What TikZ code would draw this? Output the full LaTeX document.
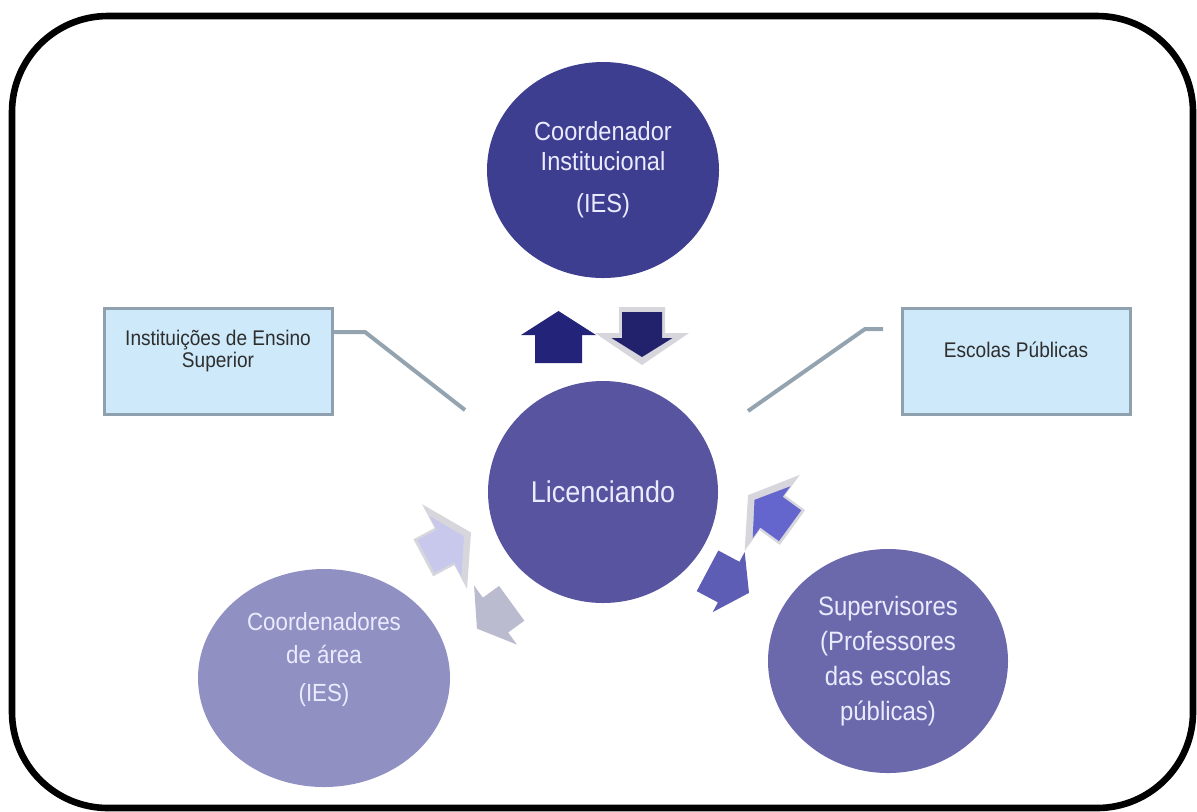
\documentclass[tikz,border=0pt]{standalone}
\usepackage{fontspec}
\setmainfont[FakeStretch=0.9]{Liberation Sans}
\usetikzlibrary{positioning,shapes.geometric}

\definecolor{coicol}{HTML}{3E3E90}
\definecolor{liccol}{HTML}{5854A0}
\definecolor{areacol}{HTML}{9190C3}
\definecolor{supcol}{HTML}{6B68AC}
\definecolor{boxfill}{HTML}{CDE9FA}
\definecolor{boxline}{HTML}{8FA1AE}
\definecolor{linkcol}{HTML}{93A3AF}
\definecolor{navyup}{HTML}{23237A}
\definecolor{navydown}{HTML}{22226C}
\definecolor{glow}{HTML}{D6D6DC}
\definecolor{lavarrow}{HTML}{C8C8EC}
\definecolor{grayarrow}{HTML}{BBBBD0}
\definecolor{brightarrow}{HTML}{6565CE}
\definecolor{suparrow}{HTML}{5D5DB6}

% block arrow: style, tail, angle, shaft width, shaft length, head width, head length
\newcommand{\blockarrow}[7]{%
  \begin{scope}[shift={(#2)}, rotate=#3]
    \fill[#1] (0,-#4/2) -- (#5,-#4/2) -- (#5,-#6/2) -- (#5+#7,0) -- (#5,#6/2) -- (#5,#4/2) -- (0,#4/2) -- cycle;
  \end{scope}}

\begin{document}
\begin{tikzpicture}[x=0.5pt, y=-0.5pt, on grid,
    main/.style = {ellipse, inner sep=0pt, text=white!92!blue, align=center},
    box/.style = {draw=boxline, line width=1.5pt, fill=boxfill, minimum width=114pt, minimum height=53pt, align=center, text=black!82, font=\fontsize{10.6}{11}\selectfont},
    link/.style = {draw=linkcol, line width=2pt}]
    \useasboundingbox (0,0) rectangle (1197,811);
    \draw[line width=3.3pt, rounded corners=48pt] (12,16) rectangle (1193,808);

    \node[main, fill=liccol, minimum width=115pt, minimum height=111pt, font=\fontsize{15}{18}\selectfont] (lic) at (603,492) {Licenciando};
    \node[main, fill=coicol, minimum width=116pt, minimum height=108pt, font=\fontsize{13.1}{15}\selectfont] (coi) [above=161pt of lic] {Coordenador\\Institucional\\[6pt](IES)};
    \node[main, fill=areacol, minimum width=126pt, minimum height=109pt] (area) [below left=93pt and 139.5pt of lic] {};
    \node[main, font=\fontsize{12.4}{16.5}\selectfont] (areatext) [above=9pt of area] {Coordenadores\\de área\\[2.5pt](IES)};
    \node[main, fill=supcol, minimum width=120pt, minimum height=112pt, font=\fontsize{13.3}{17.5}\selectfont] (sup) [below right=84.5pt and 142.5pt of lic] {Supervisores\\(Professores\\das escolas\\públicas)};

    \node[box] (ies) at (218,361.5) {Instituições de Ensino\\Superior\\[2pt]};
    \node[box] (esc) at (1016,361.5) {Escolas Públicas\\[1pt]};

    \coordinate (iesknee) at (365,332);
    \coordinate (iesend) at (465,410);
    \coordinate (escstart) at (883,329);
    \coordinate (escknee) at (865,329);
    \coordinate (escend) at (748,411);
    \draw[link] (ies.east |- iesknee) -- (iesknee) -- (iesend);
    \draw[link] (escstart) -- (escknee) -- (escend);

    \blockarrow{navyup}{558.5,363}{90}{47}{28}{75}{24}
    \blockarrow{glow}{642,307}{-90}{46}{26}{94}{32}
    \blockarrow{navydown}{642,312}{-90}{40}{26}{61}{19}
    \blockarrow{glow}{423.3,557.8}{28}{42}{24}{96}{30}
    \blockarrow{lavarrow}{426,556.4}{28}{37}{22}{68}{21}
    \blockarrow{grayarrow}{511.7,603.3}{216}{43}{20}{73}{23}
    \blockarrow{glow}{792.5,527.5}{144}{43}{25}{94}{30}
    \blockarrow{brightarrow}{790.1,525.7}{144}{38}{23}{64}{21}
    \blockarrow{suparrow}{707.5,570.8}{-28}{46}{24}{68}{23}
\end{tikzpicture}
\end{document}
